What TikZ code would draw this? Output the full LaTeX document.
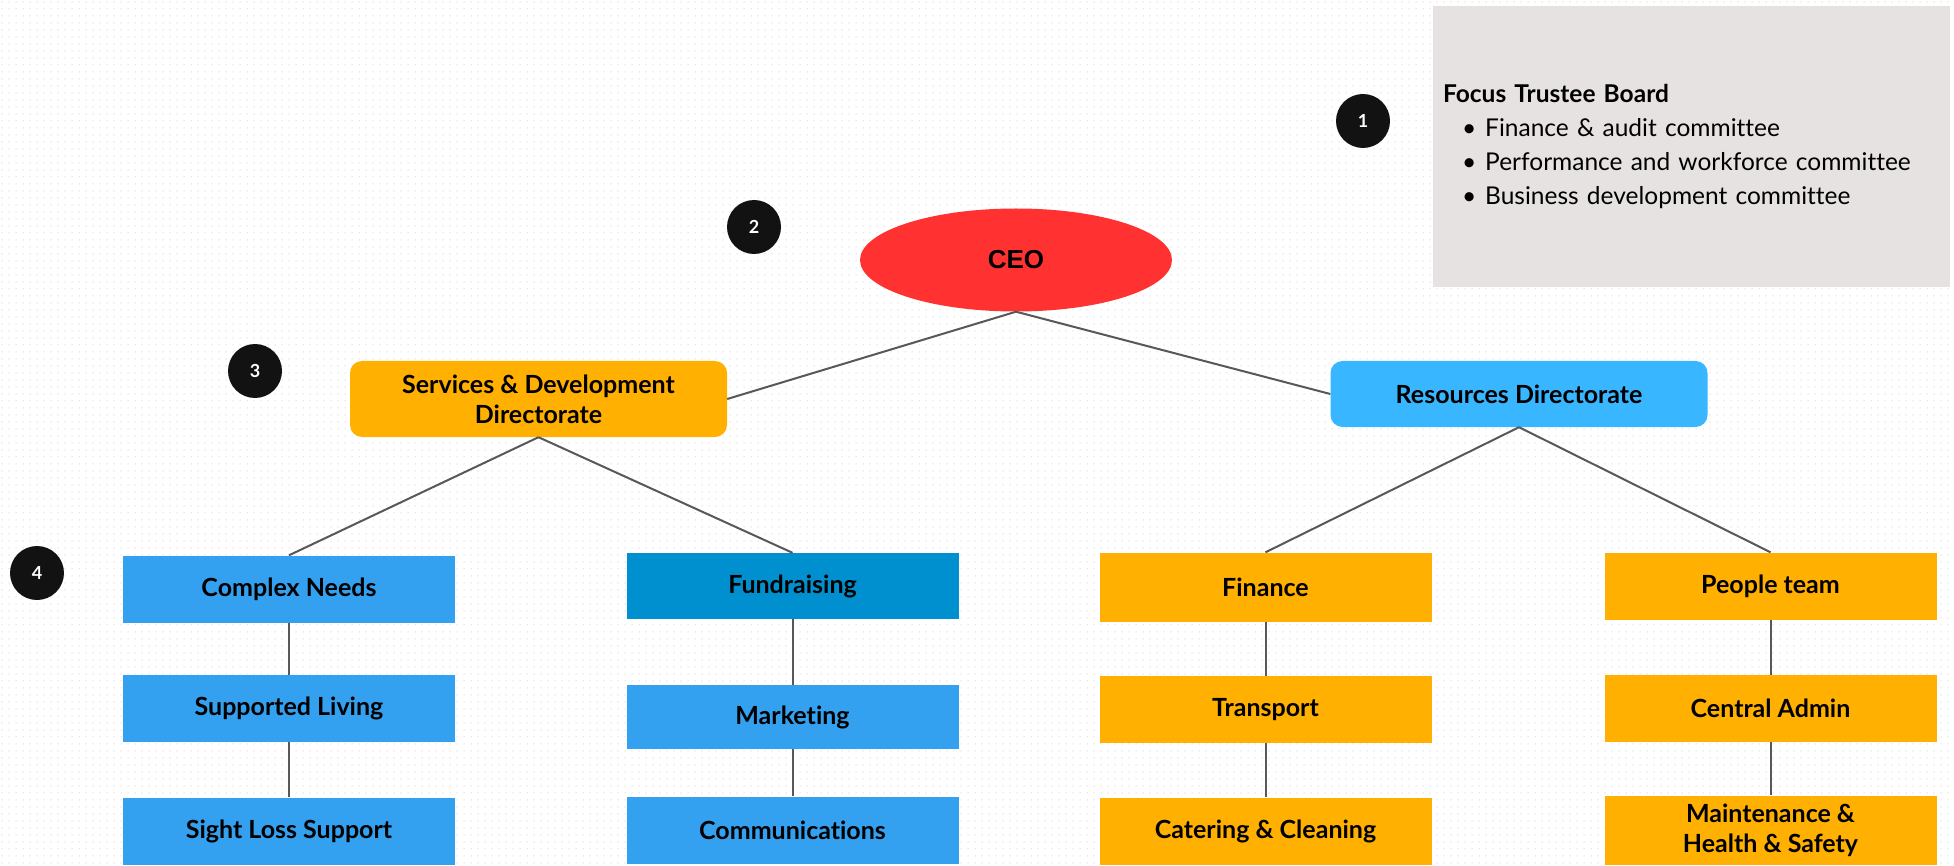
\documentclass[tikz,border=0pt]{standalone}
\usepackage{fontspec}
\setmainfont{Lato}[Ligatures=NoCommon]
\newfontfamily\ceofont{Liberation Sans}
\usepackage{tikz}
\usetikzlibrary{shapes.geometric}
\usetikzlibrary{positioning}
\usetikzlibrary{patterns.meta}
\usepackage{xcolor}

\definecolor{amber}{RGB}{255,176,0}
\definecolor{skyblue}{RGB}{52,160,240}
\definecolor{deepblue}{RGB}{0,144,208}
\definecolor{lightblue}{RGB}{56,182,255}
\definecolor{ceored}{RGB}{255,49,49}
\definecolor{boardgrey}{RGB}{230,226,225}
\definecolor{linkgrey}{RGB}{88,88,88}
\definecolor{dotgrey}{RGB}{220,220,225}

\tikzdeclarepattern{
  name=canvasdots,
  type=uncolored,
  bottom left={(0pt,0pt)},
  top right={(7pt,7pt)},
  tile size={(7pt,7pt)},
  code={\fill (3.5pt,3.5pt) circle [radius=0.8pt];}
}

\begin{document}
\begin{tikzpicture}[x=1pt, y=-1pt,
    unitbox/.style={rectangle, minimum width=332pt, minimum height=67pt, inner sep=0pt,
      align=center, font=\fontsize{25}{30}\selectfont\bfseries},
    dirbox/.style={rectangle, rounded corners=12pt, minimum width=377pt, inner sep=0pt,
      align=center, font=\fontsize{25}{30}\selectfont\bfseries},
    badge/.style={circle, fill=black!93, text=white, minimum size=54pt, inner sep=0pt,
      font=\fontsize{18}{18}\selectfont\bfseries},
    link/.style={draw=linkgrey, line width=2pt}]
            % Canvas with dotted grid
            \useasboundingbox (0,0) rectangle (1954,866);
            \fill[white] (0,0) rectangle (1954,866);
            \fill[pattern=canvasdots, pattern color=dotgrey] (0,0) rectangle (1954,866);

            % Trustee board note
            \node[rectangle, fill=boardgrey, text width=497pt, inner xsep=10pt, minimum height=281pt,
              align=left, font=\fontsize{24.5}{34}\selectfont] (board) at (1691.5,146.5)
              {\textbf{Focus Trustee Board}\\
               \hspace*{19pt}\textbullet\hspace{9pt}Finance \& audit committee\\
               \hspace*{19pt}\textbullet\hspace{9pt}Performance and workforce committee\\
               \hspace*{19pt}\textbullet\hspace{9pt}Business development committee};

            % Numbered markers
            \node[badge] (one) at (1363,121) {1};
            \node[badge] (two) at (754,227) {2};
            \node[badge] (three) at (255,371) {3};
            \node[badge] (four) at (37,573) {4};

            % Top of the chart
            \node[ellipse, fill=ceored, minimum width=312pt, minimum height=103pt, inner sep=0pt,
              font=\ceofont\fontsize{26}{30}\selectfont\bfseries] (ceo) at (1016,260) {CEO};
            \node[dirbox, fill=amber, minimum height=76pt] (sdd) at (538.5,399) {Services \& Development\\Directorate};
            \node[dirbox, fill=lightblue, minimum height=66pt] (rd) at (1519,394) {Resources Directorate};

            % Services & Development teams
            \node[unitbox, fill=skyblue] (cneeds) at (289,589) {Complex Needs};
            \node[unitbox, fill=skyblue] (living) at (289,708.5) {Supported Living};
            \node[unitbox, fill=skyblue] (sight) at (289,831) {Sight Loss Support};
            \node[unitbox, fill=deepblue, minimum height=66pt] (fundr) at (792.5,586) {Fundraising};
            \node[unitbox, fill=skyblue, minimum height=64pt] (market) at (792.5,717) {Marketing};
            \node[unitbox, fill=skyblue] (comms) at (792.5,830) {Communications};

            % Resources teams
            \node[unitbox, fill=amber, minimum height=69pt] (fin) at (1265.5,587) {Finance};
            \node[unitbox, fill=amber] (transp) at (1265.5,709.5) {Transport};
            \node[unitbox, fill=amber] (cater) at (1265.5,831) {Catering \& Cleaning};
            \node[unitbox, fill=amber] (people) at (1770.5,586) {People team};
            \node[unitbox, fill=amber] (cadmin) at (1770.5,708.5) {Central Admin};
            \node[unitbox, fill=amber, minimum height=69pt] (maint) at (1770.5,830) {Maintenance \&\\Health \& Safety};

            \draw[link] (ceo.south) -- (sdd.east);
            \draw[link] (ceo.south) -- (rd.west);
            \draw[link] (sdd.south) -- (cneeds.north);
            \draw[link] (sdd.south) -- (fundr.north);
            \draw[link] (rd.south) -- (fin.north);
            \draw[link] (rd.south) -- (people.north);
            \draw[link] (cneeds) -- (living);
            \draw[link] (living) -- (sight);
            \draw[link] (fundr) -- (market);
            \draw[link] (market) -- (comms);
            \draw[link] (fin) -- (transp);
            \draw[link] (transp) -- (cater);
            \draw[link] (people) -- (cadmin);
            \draw[link] (cadmin) -- (maint);
        \end{tikzpicture}
\end{document}
